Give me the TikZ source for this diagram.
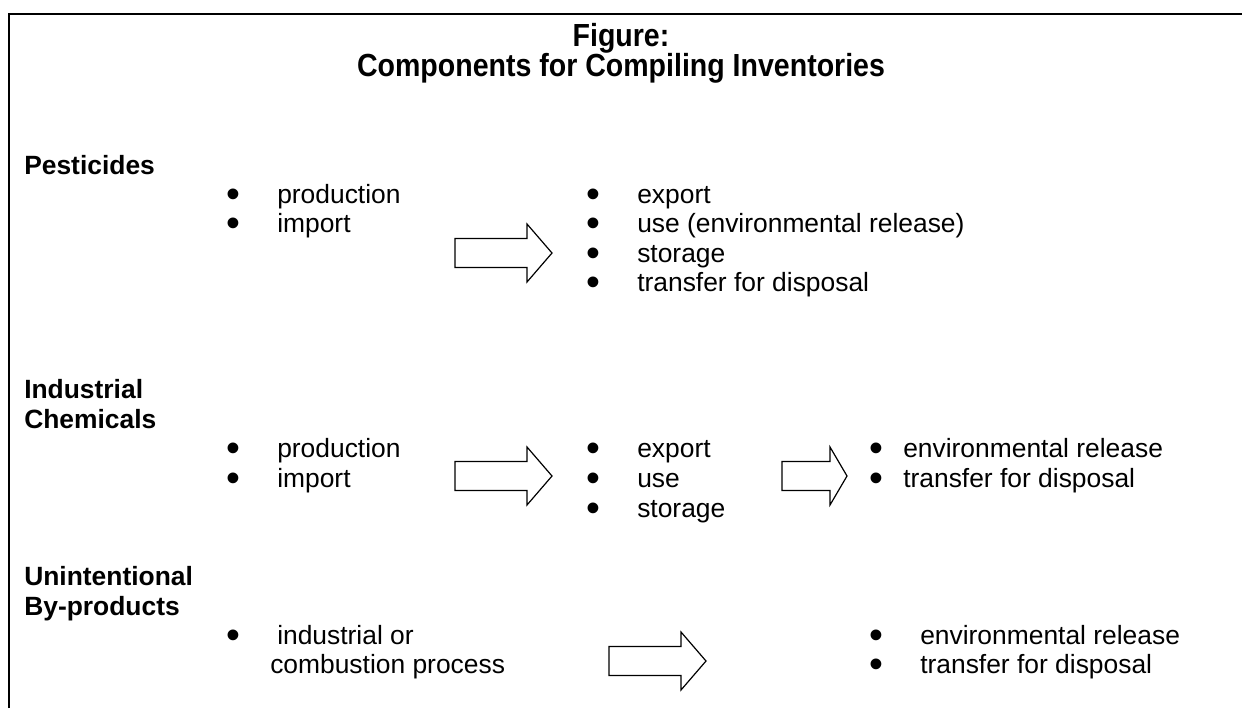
\documentclass[tikz,border=0pt]{standalone}
\usepackage{graphicx}
\usepackage{fontspec}
\setmainfont{Liberation Sans}

\newlength{\bulgap}
\setlength{\bulgap}{38.25pt}
\newcommand{\bul}[1]{\makebox[\bulgap][l]{\raisebox{-3.2pt}[0pt][0pt]{\scalebox{1.5}{\textbullet}}}#1}

\tikzset{
  body/.style = {anchor=base west, inner sep=0pt, font=\fontsize{19.8}{22.5}\selectfont},
  head/.style = {body, font=\fontsize{19.8}{22.5}\selectfont\bfseries},
  title/.style = {anchor=base, inner sep=0pt, font=\fontsize{21.4}{22.5}\selectfont\bfseries},
  blockarrow/.style = {draw, line width=0.9pt, line join=miter},
}

\begin{document}
\begin{tikzpicture}[x=0.75pt, y=-0.75pt]
  \useasboundingbox (0,0) rectangle (1242,708);
  \def\blockarrow(#1,#2)#3#4{%
    \draw[blockarrow] (#1,#2) ++(0,-14.5) -- ++({#3-#4},0) -- ++(0,-14.5)
      -- ++(#4,29) -- ++(-#4,29) -- ++(0,-14.5) -- ++({#4-#3},0) -- cycle;}

  % frame
  \draw[line width=1.5pt] (9,708) -- (9,14) -- (1242,14);

  % title
  \node[title] (fig) at (621,46) {\scalebox{1}[1.12]{Figure:}};
  \node[title] (comp) at (621,76) {\scalebox{1}[1.12]{Components for Compiling Inventories}};

  % pesticides
  \node[head] (pest) at (24,174.5) {Pesticides};
  \foreach \t [count=\i] in {production, import}
    \node[body] (pa\i) at (226,{203+29.5*(\i-1)}) {\bul{\t}};
  \blockarrow(455,253){97}{25}
  \foreach \t [count=\i] in {export, {use (environmental release)}, storage, transfer for disposal}
    \node[body] (pb\i) at (586,{203+29.5*(\i-1)}) {\bul{\t}};

  % industrial chemicals
  \node[head] (ind1) at (24,398.5) {Industrial};
  \node[head] (ind2) at (24,428.5) {Chemicals};
  \foreach \t [count=\i] in {production, import}
    \node[body] (ia\i) at (226,{457+30*(\i-1)}) {\bul{\t}};
  \blockarrow(455,476){97}{25}
  \foreach \t [count=\i] in {export, use, storage}
    \node[body] (ib\i) at (586,{457+30*(\i-1)}) {\bul{\t}};
  \blockarrow(782,476){65}{17}
  \begin{scope}
    \setlength{\bulgap}{25.5pt}
    \foreach \t [count=\i] in {environmental release, transfer for disposal}
      \node[body] (ic\i) at (869,{457+30*(\i-1)}) {\bul{\t}};
  \end{scope}

  % unintentional by-products
  \node[head] (uni1) at (24,585.5) {Unintentional};
  \node[head] (uni2) at (24,615.5) {By-products};
  \node[body] (ua1) at (226,644) {\bul{industrial or}};
  \node[body] (ua2) at (270,673) {combustion process};
  \blockarrow(609,661){97}{25}
  \foreach \t [count=\i] in {environmental release, transfer for disposal}
    \node[body] (ub\i) at (869,{644+29*(\i-1)}) {\bul{\t}};
\end{tikzpicture}
\end{document}
